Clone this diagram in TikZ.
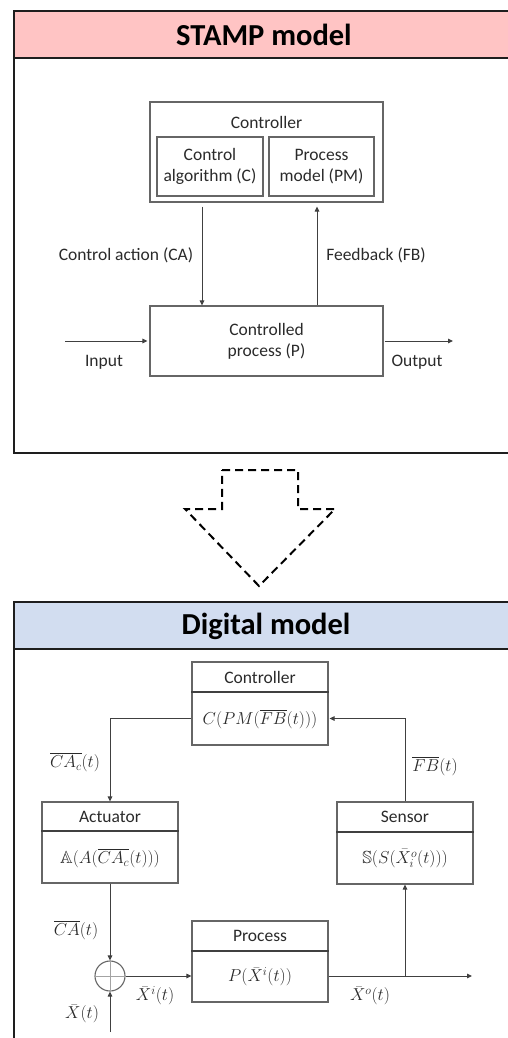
\documentclass[tikz,border=0pt]{standalone}
\usepackage{amssymb}
\usepackage{fontspec}
\setmainfont{Carlito}
\usetikzlibrary{arrows.meta,calc}

\definecolor{pinkfill}{HTML}{FFC4C4}
\definecolor{bluefill}{HTML}{D2DDF0}
\definecolor{textgray}{HTML}{2A2A2A}
\definecolor{boxgray}{HTML}{666666}
\definecolor{linegray}{HTML}{404040}
\definecolor{framecol}{HTML}{1E1E1E}

\tikzset{
  paneltitle/.style={font=\fontsize{30.5}{34}\selectfont\bfseries, text=black, inner sep=0pt},
  frameline/.style={draw=framecol, line width=2.4pt},
  blockbox/.style={draw=boxgray, line width=1.1pt, inner sep=0pt},
  divider/.style={draw=linegray, line width=1.8pt},
  lbl/.style={font=\fontsize{17.5}{21}\selectfont, text=textgray, align=center, inner sep=0pt},
  conn/.style={draw=linegray, line width=1pt, -{Triangle[length=5pt,width=4.5pt]}},
  bigarrow/.style={draw=black, line width=2pt, dash pattern=on 8pt off 5pt},
  sumnode/.style={circle, draw=boxgray, line width=1.1pt, minimum size=30pt, inner sep=0pt},
}

\begin{document}
\begin{tikzpicture}[x=1pt,y=-1pt]
\useasboundingbox (0,0) rectangle (508,1038);

% ---------------- STAMP model panel ----------------
\fill[pinkfill] (14,11) rectangle (520,58);
\draw[frameline] (14,11) rectangle (520,453);
\draw[frameline] (14,58) -- (520,58);
\node[paneltitle] (stamptitle) at (264,35) {STAMP model};

\node[blockbox, minimum width=233pt, minimum height=100pt] (ctrl) at (266.5,152) {};
\node[lbl] (ctrltxt) at (266.5,122) {Controller};
\node[blockbox, minimum width=106pt, minimum height=59pt, lbl] (calg) at (210,166.5)
  {Control\\algorithm (C)};
\node[blockbox, minimum width=105pt, minimum height=59pt, lbl] (pmod) at (321.5,166.5)
  {Process\\model (PM)};

\node[blockbox, minimum width=233pt, minimum height=70pt, lbl] (proc) at (266.5,341)
  {Controlled\\process (P)};

\draw[conn] ([xshift=-64.5pt,yshift=-4pt]ctrl.south) -- ([xshift=-64.5pt]proc.north);
\draw[conn] ([xshift=50.5pt]proc.north) -- ([xshift=50.5pt,yshift=-4pt]ctrl.south);
\node[lbl] (calbl) at (126,255) {Control action (CA)};
\node[lbl] (fblbl) at (376,255) {Feedback (FB)};

\coordinate (inS) at (65,341);
\coordinate (outE) at (453,341);
\draw[conn] (inS) -- ([xshift=-2pt]proc.west);
\draw[conn] ([xshift=1pt]proc.east) -- (outE);
\node[lbl] (inlbl) at (104,362) {Input};
\node[lbl] (outlbl) at (417,362) {Output};

% ---------------- transition arrow ----------------
\draw[bigarrow] (222,470) -- (298,470) -- (298,509) -- (335,509) -- (259,586)
  -- (185,509) -- (222,509) -- cycle;

% ---------------- Digital model panel ----------------
\fill[bluefill] (14,602) rectangle (520,649);
\draw[frameline] (14,602) rectangle (520,1070);
\draw[frameline] (14,649) -- (520,649);
\node[paneltitle] (digtitle) at (266,626) {Digital model};

% controller
\node[blockbox, minimum width=136pt, minimum height=83pt] (bctrl) at (260,703.5) {};
\draw[divider] (bctrl.west |- 0,692) -- (bctrl.east |- 0,692);
\node[lbl] (bctrlt) at (260,677) {Controller};
\node[lbl] (bctrlf) at (260,719) {$C\bigl(PM(\overline{FB}(t))\bigr)$};

% actuator
\node[blockbox, minimum width=136pt, minimum height=81pt] (act) at (110,842.5) {};
\draw[divider] (act.west |- 0,831) -- (act.east |- 0,831);
\node[lbl] (actt) at (110,816.5) {Actuator};
\node[lbl] (actf) at (110,858) {$\mathbb{A}(A(\overline{CA_c}(t)))$};

% sensor
\node[blockbox, minimum width=136pt, minimum height=82pt] (sens) at (405,843) {};
\draw[divider] (sens.west |- 0,832) -- (sens.east |- 0,832);
\node[lbl] (senst) at (405,817) {Sensor};
\node[lbl] (sensf) at (405,858.5) {$\mathbb{S}\bigl(S(\bar{X}_i^o(t))\bigr)$};

% process
\node[blockbox, minimum width=136pt, minimum height=81pt] (bproc) at (260,961.5) {};
\draw[divider] (bproc.west |- 0,951) -- (bproc.east |- 0,951);
\node[lbl] (bproct) at (260,936) {Process};
\node[lbl] (bprocf) at (260,977) {$P\bigl(\bar{X}^i(t)\bigr)$};

% summing junction
\node[sumnode] (sum) at (110,976) {};
\draw[draw=boxgray!60, line width=0.8pt] (sum.north) -- (sum.south);
\draw[draw=boxgray!60, line width=0.8pt] (sum.west) -- (sum.east);

% signal lines
\draw[conn] ([yshift=-15pt]bctrl.west) -| (act.north);
\draw[conn] (sens.north) |- ([yshift=-15pt,xshift=1pt]bctrl.east);
\draw[conn] (act.south) -- (sum.north);
\coordinate (xin) at (110,1032);
\draw[conn] (xin) -- (sum.south);
\draw[conn] (sum.east) -- (sum.east -| bproc.west);
\coordinate (xout) at (472,976);
\draw[conn] (sum.east -| bproc.east) -- (xout);
\draw[conn] (xout -| sens.south) -- (sens.south);

% signal labels
\node[lbl] (cacl) at (75,762) {$\overline{CA_c}(t)$};
\node[lbl] (fbl) at (435,766) {$\overline{FB}(t)$};
\node[lbl] (cal) at (76,930) {$\overline{CA}(t)$};
\node[lbl] (xil) at (155,996) {$\bar{X}^i(t)$};
\node[lbl] (xol) at (370,996) {$\bar{X}^o(t)$};
\node[lbl] (xl) at (82,1014) {$\bar{X}(t)$};
\end{tikzpicture}
\end{document}
